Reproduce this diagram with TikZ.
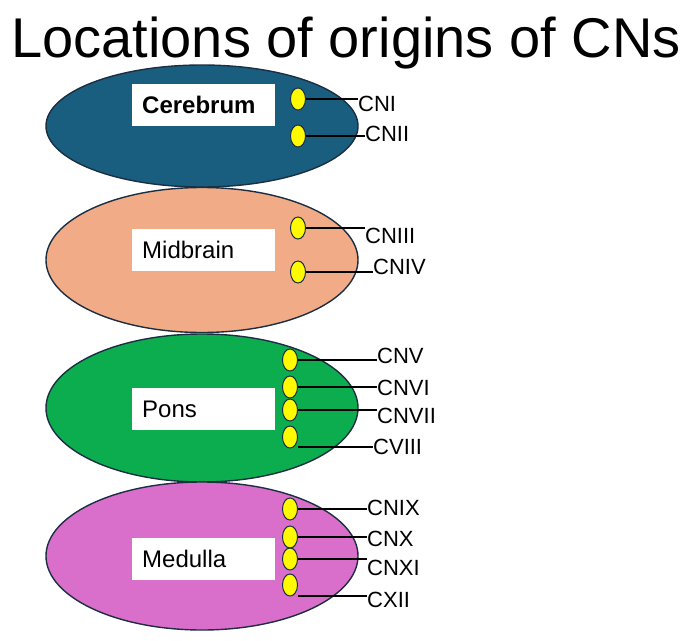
\documentclass[tikz,border=0pt]{standalone}
\usepackage{fontspec}
\setmainfont{Liberation Sans}
\usetikzlibrary{shapes.geometric}
\definecolor{cerc}{RGB}{26,94,127}
\definecolor{midc}{RGB}{241,171,134}
\definecolor{ponc}{RGB}{12,173,78}
\definecolor{medc}{RGB}{218,111,203}
\definecolor{edgec}{RGB}{28,46,66}
\definecolor{yelc}{RGB}{255,250,0}
\tikzset{
  region/.style={ellipse, draw=edgec, line width=1.4pt, minimum width=312pt, inner sep=0pt},
  namebox/.style={fill=white, minimum width=143pt, minimum height=42pt, inner sep=0pt},
  nametext/.style={anchor=base west, inner sep=0pt, font=\fontsize{24}{28}\selectfont},
  nucleus/.style={ellipse, draw=edgec, fill=yelc, line width=1pt, minimum width=15pt, minimum height=22pt, inner sep=0pt},
  cnlabel/.style={anchor=base west, inner sep=0pt, font=\fontsize{22}{26}\selectfont},
  nerve/.style={draw=black, line width=1.3pt}
}
\begin{document}
\begin{tikzpicture}[x=1pt,y=-1pt]
\useasboundingbox (0,0) rectangle (688,640);
\node[anchor=base, inner sep=0pt, font=\fontsize{56}{60}\selectfont] (title) at (346,57) {Locations of origins of CNs};
% regions
\node[region, fill=cerc, minimum height=122pt] (cer) at (202,126) {};
\node[region, fill=midc, minimum height=145pt] (mid) at (202,260) {};
\node[region, fill=ponc, minimum height=148pt] (pon) at (202,408) {};
\node[region, fill=medc, minimum height=148pt] (med) at (202,556) {};
% name boxes
\node[namebox] (bcer) at (203.5,105) {};
\node[nametext, font=\fontsize{24}{28}\selectfont\bfseries] (tcer) at (142,113) {Cerebrum};
\node[namebox] (bmid) at (203.5,250) {};
\node[nametext] (tmid) at (142,258) {Midbrain};
\node[namebox] (bpon) at (203.5,409) {};
\node[nametext] (tpon) at (142,417) {Pons};
\node[namebox] (bmed) at (203.5,559) {};
\node[nametext] (tmed) at (142,567) {Medulla};
% nuclei
\node[nucleus] (n1) at (298,99) {};
\node[nucleus] (n2) at (298,136) {};
\node[nucleus] (n3) at (298,228) {};
\node[nucleus] (n4) at (298,272) {};
\node[nucleus] (n5) at (290,360) {};
\node[nucleus] (n6) at (290,387) {};
\node[nucleus] (n7) at (290,410) {};
\node[nucleus] (n8) at (290,437) {};
\node[nucleus] (n9) at (290,509) {};
\node[nucleus] (n10) at (290,537) {};
\node[nucleus] (n11) at (290,559) {};
\node[nucleus] (n12) at (290,585) {};
% labels
\node[cnlabel] (l1) at (358,111) {CNI};
\node[cnlabel] (l2) at (365,141) {CNII};
\node[cnlabel] (l3) at (365,243) {CNIII};
\node[cnlabel] (l4) at (373,274) {CNIV};
\node[cnlabel] (l5) at (377,363) {CNV};
\node[cnlabel] (l6) at (377,395) {CNVI};
\node[cnlabel] (l7) at (377,423) {CNVII};
\node[cnlabel] (l8) at (373,454) {CVIII};
\node[cnlabel] (l9) at (367,515) {CNIX};
\node[cnlabel] (l10) at (367,546) {CNX};
\node[cnlabel] (l11) at (367,575) {CNXI};
\node[cnlabel] (l12) at (367,607) {CXII};
\coordinate (c8) at (298,447);
\coordinate (c12) at (298,596);
% nerves
\draw[nerve] (n1.east) -- (n1.east -| l1.west);
\draw[nerve] (n2.east) -- (n2.east -| l2.west);
\draw[nerve] (n3.east) -- (n3.east -| l3.west);
\draw[nerve] (n4.east) -- (n4.east -| l4.west);
\draw[nerve] (n5.east) -- (n5.east -| l5.west);
\draw[nerve] (n6.east) -- (n6.east -| l6.west);
\draw[nerve] (n7.east) -- (n7.east -| l7.west);
\draw[nerve] (c8) -- (c8 -| l8.west);
\draw[nerve] (n9.east) -- (n9.east -| l9.west);
\draw[nerve] (n10.east) -- (n10.east -| l10.west);
\draw[nerve] (n11.east) -- (n11.east -| l11.west);
\draw[nerve] (c12) -- (c12 -| l12.west);
\end{tikzpicture}
\end{document}
